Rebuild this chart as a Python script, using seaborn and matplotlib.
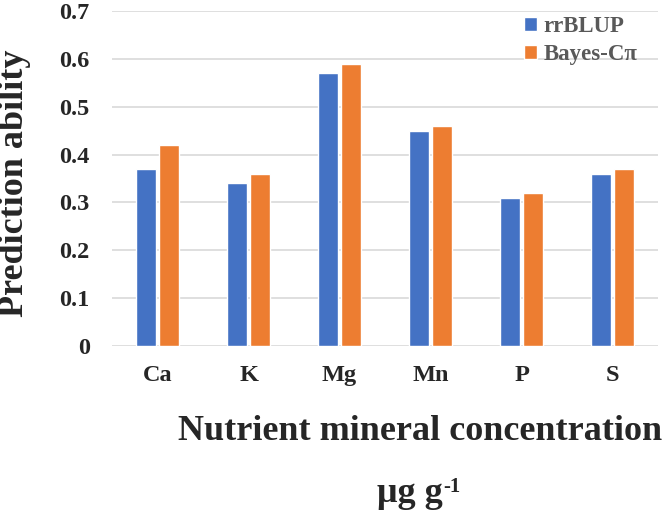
import matplotlib
matplotlib.use("Agg")
import matplotlib.pyplot as plt
import seaborn as sns
import pandas as pd

minerals = ["Ca", "K", "Mg", "Mn", "P", "S"]
rrblup = [0.37, 0.34, 0.57, 0.45, 0.31, 0.36]
bayes_cpi = [0.42, 0.36, 0.59, 0.46, 0.32, 0.37]
methods = ["rrBLUP", "Bayes-Cπ"]
yticks = [0, 0.1, 0.2, 0.3, 0.4, 0.5, 0.6, 0.7]

df = pd.DataFrame({
    "Mineral": minerals * 2,
    "Method": [methods[0]] * len(minerals) + [methods[1]] * len(minerals),
    "Ability": rrblup + bayes_cpi,
})

sns.set_style("white")
plt.rcParams["font.family"] = ["Liberation Serif", "DejaVu Serif"]
plt.rcParams["font.weight"] = "bold"

fig = plt.figure(figsize=(6.69, 5.18), dpi=100)
ax = fig.add_axes([112 / 669, 1 - 346 / 518, 546 / 669, 335 / 518])

sns.barplot(data=df, x="Mineral", y="Ability", hue="Method",
            palette=["#4472C4", "#ED7D31"], width=0.505, gap=0.11,
            saturation=1, ax=ax)

ax.set_ylim(0, 0.7)
ax.set_xlim(-0.5, 5.5)
ax.set_yticks(yticks)
ax.set_yticklabels(["0" if v == 0 else f"{v:.1f}" for v in yticks])
ax.yaxis.grid(True, color="#D9D9D9", linewidth=1.2)
ax.set_axisbelow(True)
for s in ax.spines.values():
    s.set_visible(False)
ax.tick_params(axis="y", length=0, pad=16, labelsize=17.5)
ax.tick_params(axis="x", length=0, pad=14, labelsize=17.5)
for lab in ax.get_xticklabels() + ax.get_yticklabels():
    lab.set_fontweight("bold")
ax.set_xlabel("")
ax.set_ylabel("")

ax.legend(loc="upper left", bbox_to_anchor=(524 / 669, 1 - 16 / 518),
          bbox_transform=fig.transFigure, frameon=False,
          handlelength=0.55, handleheight=0.55, handletextpad=0.3,
          labelspacing=0.3, borderpad=0, borderaxespad=0,
          labelcolor="#595959", prop={"weight": "bold", "size": 16.5})

fig.text(15 / 669, 1 - 183 / 518, "Prediction ability", rotation=90,
         ha="center", va="center", fontsize=26, fontweight="bold")
fig.text(420 / 669, 1 - 432 / 518, "Nutrient mineral concentration",
         ha="center", va="center", fontsize=26, fontweight="bold")
unit = fig.text(410 / 669, 1 - 494 / 518, "μg g",
                ha="center", va="center", fontsize=26, fontweight="bold")
ax.annotate("-1", xy=(1, 1), xycoords=unit, xytext=(0.5, 0),
            textcoords="offset points", ha="left", va="top",
            fontsize=15, fontweight="bold")

fig.savefig("out.png", dpi=100)
